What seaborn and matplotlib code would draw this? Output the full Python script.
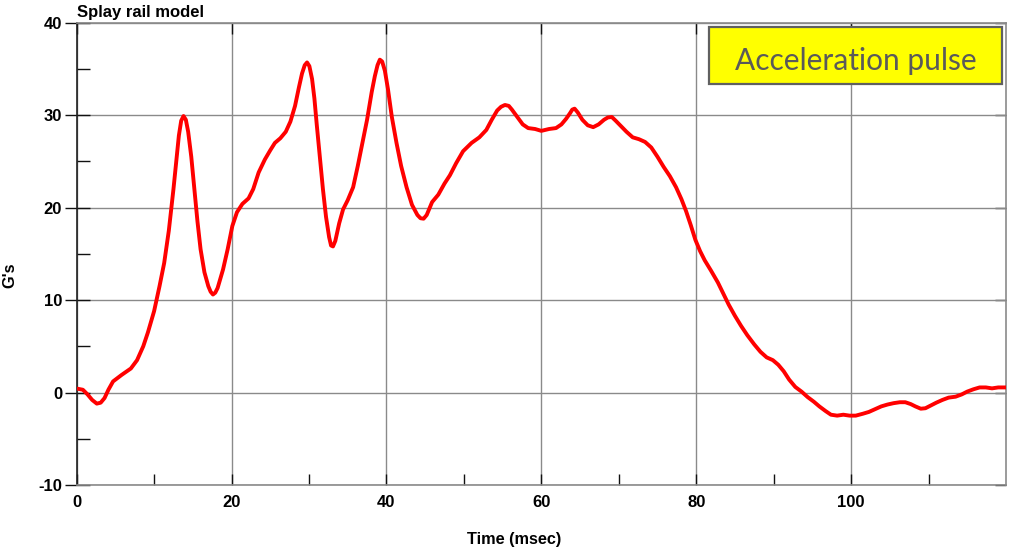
import numpy as np
import pandas as pd
import matplotlib
matplotlib.use("Agg")
import matplotlib.pyplot as plt
from matplotlib.patches import Rectangle
from matplotlib.ticker import MultipleLocator, FixedLocator
import seaborn as sns

# Acceleration pulse of the splay rail model
time_ms = [
    0.0, 0.8, 1.4, 2.0, 2.6, 3.1, 3.6, 4.1, 4.7, 5.8, 7.0, 7.8, 8.6, 9.2, 10.0,
    10.7, 11.3, 11.9, 12.5, 12.9, 13.2, 13.5, 13.8, 14.1, 14.4, 14.8, 15.2,
    15.6, 16.0, 16.5, 17.0, 17.3, 17.6, 17.9, 18.2, 18.9, 19.5, 20.1, 20.7,
    21.4, 22.2, 22.8, 23.5, 24.3, 25.0, 25.6, 26.3, 27.0, 27.6, 28.2, 28.7,
    29.1, 29.45, 29.75, 30.05, 30.4, 30.7, 31.0, 31.4, 31.8, 32.2, 32.6, 32.85,
    33.1, 33.4, 33.9, 34.4, 35.0, 35.7, 36.3, 36.9, 37.5, 38.1, 38.5, 38.85,
    39.15, 39.45, 39.8, 40.2, 40.7, 41.3, 41.9, 42.6, 43.3, 44.0, 44.4, 44.8,
    45.2, 45.9, 46.7, 47.5, 48.2, 49.0, 49.9, 51.0, 52.0, 52.9, 53.6, 54.3,
    54.8, 55.3, 55.8, 56.2, 56.9, 57.6, 58.3, 59.2, 60.0, 61.0, 61.9, 62.6,
    63.2, 63.7, 64.0, 64.3, 64.7, 65.3, 66.0, 66.7, 67.4, 68.1, 68.6, 69.1,
    69.6, 70.3, 71.0, 71.8, 72.6, 73.4, 74.2, 75.0, 75.8, 76.6, 77.4, 78.1,
    78.7, 79.3, 79.9, 80.5, 81.1, 81.9, 82.8, 83.5, 84.2, 85.0, 85.8, 86.6,
    87.5, 88.3, 89.1, 89.9, 90.6, 91.3, 92.0, 92.8, 93.6, 94.4, 95.2, 95.9,
    96.7, 97.4, 98.2, 99.0, 99.8, 100.6, 101.5, 102.3, 103.1, 103.9, 104.7,
    105.5, 106.3, 107.0, 107.7, 108.3, 109.0, 109.6, 110.3, 111.0, 111.8,
    112.6, 113.5, 114.3, 115.0, 115.8, 116.6, 117.4, 118.2, 119.0, 120.0,
]
accel_g = [
    0.43, 0.3, -0.2, -0.8, -1.2, -1.1, -0.6, 0.3, 1.2, 1.9, 2.6, 3.5, 5.0, 6.5,
    8.8, 11.5, 14.0, 17.5, 22.0, 25.3, 27.8, 29.4, 29.9, 29.5, 28.2, 25.5,
    22.0, 18.5, 15.5, 13.0, 11.5, 10.9, 10.6, 10.8, 11.3, 13.3, 15.5, 18.0,
    19.5, 20.4, 21.0, 22.0, 23.8, 25.2, 26.2, 27.0, 27.5, 28.2, 29.3, 31.0,
    33.0, 34.5, 35.4, 35.7, 35.3, 33.9, 31.8, 29.0, 25.5, 22.0, 19.0, 16.8,
    15.9, 15.8, 16.4, 18.3, 19.8, 20.8, 22.2, 24.5, 27.0, 29.5, 32.5, 34.2,
    35.4, 36.0, 35.8, 34.8, 32.8, 29.8, 27.0, 24.5, 22.2, 20.3, 19.2, 18.85,
    18.8, 19.2, 20.6, 21.4, 22.6, 23.5, 24.8, 26.1, 27.0, 27.6, 28.4, 29.5,
    30.5, 30.9, 31.1, 31.0, 30.6, 29.8, 29.0, 28.6, 28.5, 28.3, 28.5, 28.6,
    29.0, 29.6, 30.2, 30.6, 30.7, 30.3, 29.5, 28.9, 28.7, 29.0, 29.5, 29.75,
    29.8, 29.4, 28.8, 28.2, 27.6, 27.4, 27.1, 26.5, 25.5, 24.4, 23.4, 22.2,
    20.9, 19.6, 18.1, 16.5, 15.3, 14.3, 13.2, 11.9, 10.7, 9.5, 8.3, 7.2,
    6.2, 5.2, 4.4, 3.8, 3.5, 3.0, 2.3, 1.4, 0.6, 0.1, -0.5, -1.0, -1.5, -2.0,
    -2.4, -2.5, -2.4, -2.5, -2.5, -2.3, -2.1, -1.8, -1.5, -1.3, -1.15,
    -1.05, -1.05, -1.25, -1.5, -1.75, -1.7, -1.4, -1.1, -0.8, -0.55,
    -0.45, -0.2, 0.1, 0.35, 0.55, 0.55, 0.45, 0.55, 0.55,
]

x_major = [0, 20, 40, 60, 80, 100]
x_minor = [10, 30, 50, 70, 90, 110]
y_major = [-10, 0, 10, 20, 30, 40]

title_text = "Splay rail model"
x_label = "Time (msec)"
y_label = "G's"
badge_text = "Acceleration pulse"

sns.set_theme(style="white")
plt.rcParams["font.family"] = ["Liberation Sans", "DejaVu Sans"]
plt.rcParams["axes.unicode_minus"] = False

df = pd.DataFrame({"time": time_ms, "g": accel_g})

fig = plt.figure(figsize=(10.10, 5.53), dpi=100)
ax = fig.add_axes([0.0759, 0.123, 0.9201, 0.836])

grid_col = "#8a8a8a"
ax.grid(True, which="major", color=grid_col, lw=1.0)
ax.set_axisbelow(True)

line_kw = dict(solid_joinstyle="round", solid_capstyle="round")
sns.lineplot(data=df, x="time", y="g", color="#ff0000", lw=2.8, ax=ax,
             zorder=3, **line_kw)

ax.set_xlim(0, 120)
ax.set_ylim(-10, 40)
ax.xaxis.set_major_locator(FixedLocator(x_major))
ax.xaxis.set_minor_locator(FixedLocator(x_minor))
ax.yaxis.set_major_locator(FixedLocator(y_major))
ax.yaxis.set_minor_locator(MultipleLocator(5))

for side in ["top", "right", "bottom"]:
    ax.spines[side].set_color(grid_col)
    ax.spines[side].set_linewidth(1.2)
ax.spines["left"].set_color("#202020")
ax.spines["left"].set_linewidth(1.2)

ax.tick_params(axis="x", which="both", direction="in", length=8, width=1,
               color="#111111", bottom=True, top=False, pad=7)
ax.tick_params(axis="x", which="major", top=True, length=8)
ax.tick_params(axis="y", which="major", direction="inout", length=18,
               width=1, color="#111111", left=True, right=False, pad=1.5)
ax.tick_params(axis="y", which="minor", direction="in", length=9, width=1,
               color="#111111", left=True, right=False)
for lab in ax.get_xticklabels() + ax.get_yticklabels():
    lab.set_fontweight("bold")
    lab.set_fontsize(12)
    lab.set_color("black")

# short inward ticks on the right edge at the major y values
ax_r = ax.secondary_yaxis("right")
ax_r.set_yticks(y_major)
ax_r.tick_params(direction="in", length=8, width=1, color="#111111",
                 labelright=False)
ax_r.spines["right"].set_visible(False)

ax.set_xlabel(x_label, fontweight="bold", fontsize=11.7, color="black")
ax.set_ylabel(y_label, fontweight="bold", fontsize=11.7, color="black")
ax.xaxis.set_label_coords(0.4706, -0.119)
ax.xaxis.label.set_va("center")
ax.yaxis.set_label_coords(-0.072, 0.454)
ax.yaxis.label.set_va("center")

fig.text(0.0762, 1 - 16.5 / 553, title_text, fontweight="bold",
         fontsize=12, color="black", ha="left", va="baseline")

# yellow badge in the upper right corner
ax.add_patch(Rectangle((0.6804, 0.8674), 0.3153, 0.1233,
                       transform=ax.transAxes, facecolor="#ffff00",
                       edgecolor="#606060", lw=1.6, zorder=6, clip_on=False))
ax.text(0.8380, 0.8977, badge_text, transform=ax.transAxes,
        ha="center", va="baseline", fontsize=21.5, color="#5a5a5a",
        family=["Lato", "Liberation Sans", "DejaVu Sans"], zorder=7)

fig.savefig("out.png", dpi=100)
